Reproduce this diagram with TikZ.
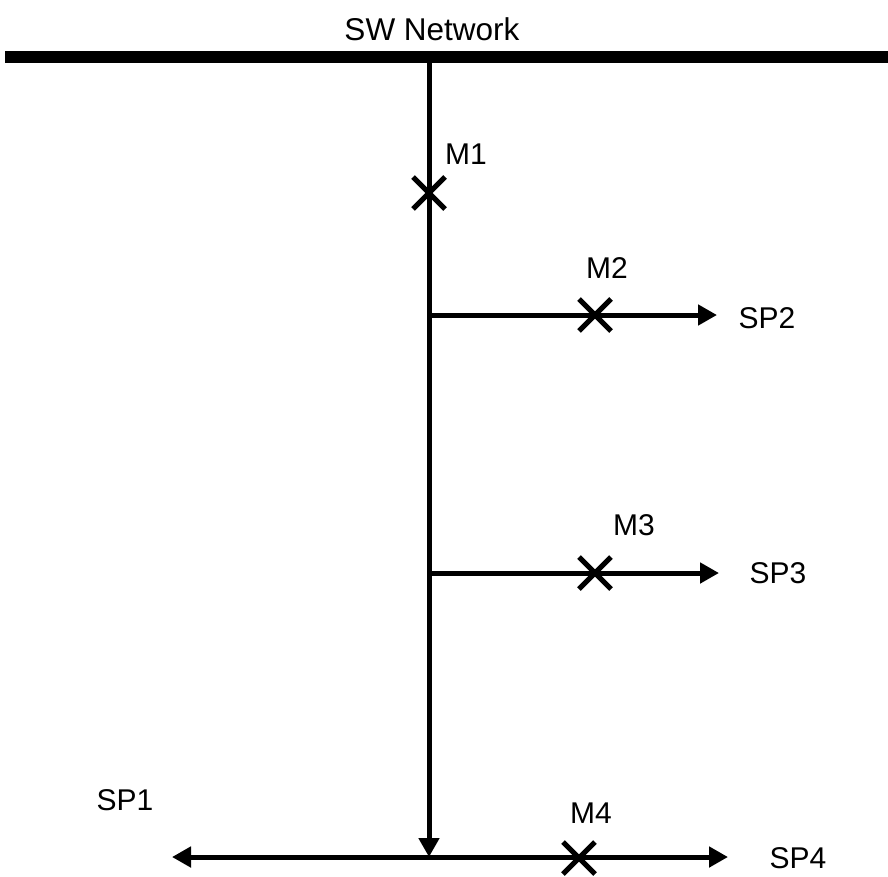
\documentclass[tikz,border=0pt]{standalone}
\usepackage{fontspec}
\setmainfont{Liberation Sans}
\usetikzlibrary{arrows.meta,shapes.misc}

\begin{document}
\begin{tikzpicture}[x=1pt,y=-1pt,
  lbl/.style={font=\fontsize{30}{35}\selectfont,inner sep=0pt},
  meter/.style={cross out,draw=black,line width=5pt,minimum size=27pt,inner sep=0pt},
  feed/.style={line width=5pt,-{Triangle[length=19pt,width=20pt]}}]

  \useasboundingbox (0,0) rectangle (888,876);

  % bus bar of the network
  \coordinate (busw) at (5,57);
  \coordinate (buse) at (888,57);
  \draw[line width=12pt] (busw) -- (buse);
  \node[lbl,font=\fontsize{31.5}{36}\selectfont] (net) at (432,29) {SW Network};

  % junctions on the main line
  \coordinate (top) at (429,57);
  \foreach \n/\y in {2/315,3/573,4/857} {
    \coordinate (j\n) at (429,\y);
  };

  % ends of the feeders
  \coordinate (e2) at (717,315);
  \coordinate (e3) at (719,573);
  \coordinate (e4) at (728,857);
  \coordinate (w4) at (172,857);

  % main line and feeders
  \draw[feed] (top) -- (j4);
  \foreach \n in {2,3,4} {
    \draw[feed] (j\n) -- (e\n);
  };
  \draw[feed] (j4) -- (w4);

  % meters
  \foreach \n/\x/\y in {1/429/193,2/595/315,3/595/573,4/579/858} {
    \node[meter] (m\n) at (\x,\y) {};
  };

  % labels
  \foreach \n/\x/\y in {1/466/154,2/607/268,3/634/525,4/591/813} {
    \node[lbl] (lm\n) at (\x,\y) {M\n};
  };
  \foreach \n/\x/\y in {1/125/800,2/767/318,3/778/573,4/798/858} {
    \node[lbl] (sp\n) at (\x,\y) {SP\n};
  };

\end{tikzpicture}
\end{document}
